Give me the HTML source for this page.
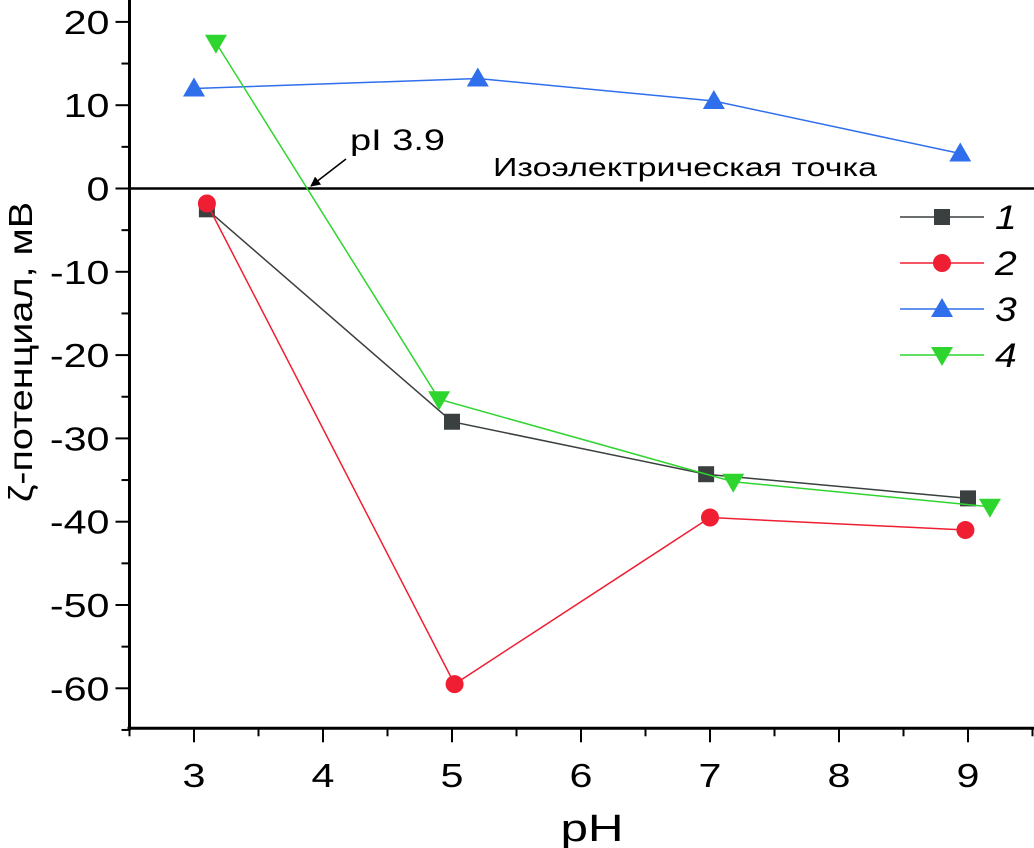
<!DOCTYPE html>
<html><head><meta charset="utf-8"><style>
html,body{margin:0;padding:0;background:#fff;}
svg{display:block;font-family:"Liberation Sans",sans-serif;}
</style></head><body>
<svg id="chart" width="1034" height="848" viewBox="0 0 1034 848">
<defs><marker id="ah" markerWidth="10" markerHeight="10" refX="9" refY="5" orient="auto" markerUnits="userSpaceOnUse"><path d="M0,0 L10,5 L0,10 z" fill="#000"/></marker></defs>
<g id="axes"></g>
<g id="series"></g>
<g id="legend"></g>
<text x="0" y="0" font-size="33" text-anchor="middle" transform="translate(32 352) rotate(-90) scale(1.2 1)">ζ-потенциал, мВ</text>
<text x="0" y="0" font-size="38" text-anchor="middle" transform="translate(592 841) scale(1.3 1)">pH</text>
<text x="350" y="150" font-size="30" textLength="95" lengthAdjust="spacingAndGlyphs">pI 3.9</text>
<line x1="346" y1="159" x2="311" y2="186" stroke="#000" stroke-width="1.5" marker-end="url(#ah)"/>
<text x="493" y="176" font-size="26" textLength="384" lengthAdjust="spacingAndGlyphs">Изоэлектрическая точка</text>
</svg>
<script>
const xTicks=[3,4,5,6,7,8,9];
const yTicks=[20,10,0,-10,-20,-30,-40,-50,-60];
const names=["1","2","3","4"];
const colors=["#3a3f3f","#f01e32","#2f6fec","#2fd52f"];
const s1x=[3.1,5.0,6.97,9.0], s1y=[-2.5,-28,-34.3,-37.2];
const s2x=[3.1,5.02,7.0,8.98], s2y=[-1.8,-59.5,-39.5,-41];
const s3x=[3.0,5.2,7.03,8.94], s3y=[12,13.2,10.5,4.2];
const s4x=[3.17,4.9,7.18,9.17], s4y=[17.5,-25.3,-35.2,-38.2];
const X=v=>194+(v-3)*129.0;
const Y=v=>188.5-v*8.33;
const NS="http://www.w3.org/2000/svg";
function mk(t,a,p){const e=document.createElementNS(NS,t);for(const k in a)e.setAttribute(k,a[k]);p.appendChild(e);return e;}
const ax=document.getElementById('axes');
const L=X(2.5),R=X(9.55),B=Y(-64.8),T=Y(23);
let e=mk('line',{x1:L,y1:T,x2:L,y2:B+2,stroke:'#000','stroke-width':3},ax);

e=mk('line',{x1:L-2,y1:B,x2:1034,y2:B,stroke:'#000','stroke-width':3},ax);

e=mk('line',{x1:L,y1:Y(0),x2:1034,y2:Y(0),stroke:'#000','stroke-width':2.5},ax);

for(let v=-65;v<=20;v+=5){const major=v%10===0;mk('line',{x1:L-(major?14:8),y1:Y(v),x2:L,y2:Y(v),stroke:'#000','stroke-width':2},ax);}
yTicks.forEach(v=>{const t=mk('text',{x:0,y:0,'font-size':33,'text-anchor':'end',transform:`translate(${L-20} ${Y(v)+12}) scale(1.25 1)`},ax);t.textContent=v;
});
for(let v=2.5;v<=9.6;v+=0.5){const major=Math.abs(v-Math.round(v))<0.01;mk('line',{x1:X(v),y1:B,x2:X(v),y2:B+(major?14:8),stroke:'#000','stroke-width':2},ax);}
xTicks.forEach(v=>{const t=mk('text',{x:0,y:0,'font-size':33,'text-anchor':'middle',transform:`translate(${X(v)} 787) scale(1.25 1)`},ax);t.textContent=v;
});
function marker(i,cx,cy,p){
 if(i===0)return mk('rect',{x:cx-8,y:cy-8,width:16,height:16,fill:colors[0]},p);
 if(i===1)return mk('circle',{cx:cx,cy:cy,r:9,fill:colors[1]},p);
 if(i===2)return mk('path',{d:`M${cx},${cy-11}L${cx+11},${cy+8}L${cx-11},${cy+8}Z`,fill:colors[2]},p);
 return mk('path',{d:`M${cx},${cy+11}L${cx+11},${cy-8}L${cx-11},${cy-8}Z`,fill:colors[3]},p);
}
const sg=document.getElementById('series');
[[s1x,s1y],[s2x,s2y],[s3x,s3y],[s4x,s4y]].forEach((s,i)=>{
 const g=mk('g',{},sg);
 
 
 mk('polyline',{points:s[0].map((x,j)=>X(x)+','+Y(s[1][j])).join(' '),fill:'none',stroke:colors[i],'stroke-width':1.5},g);
 s[0].forEach((x,j)=>{const m=marker(i,X(x),Y(s[1][j]),g);
  
  });
});
const lg=document.getElementById('legend');
names.forEach((n,i)=>{
 const y=217+i*46;
 const g=mk('g',{},lg);
 
 
 mk('line',{x1:900,y1:y,x2:984,y2:y,stroke:colors[i],'stroke-width':1.5},g);
 marker(i,942,y,g);
 const t=mk('text',{x:0,y:0,'font-size':34,'font-style':'italic',transform:`translate(995 ${y+12}) scale(1.15 1)`},g);t.textContent=n;
});
</script>
</body></html>
